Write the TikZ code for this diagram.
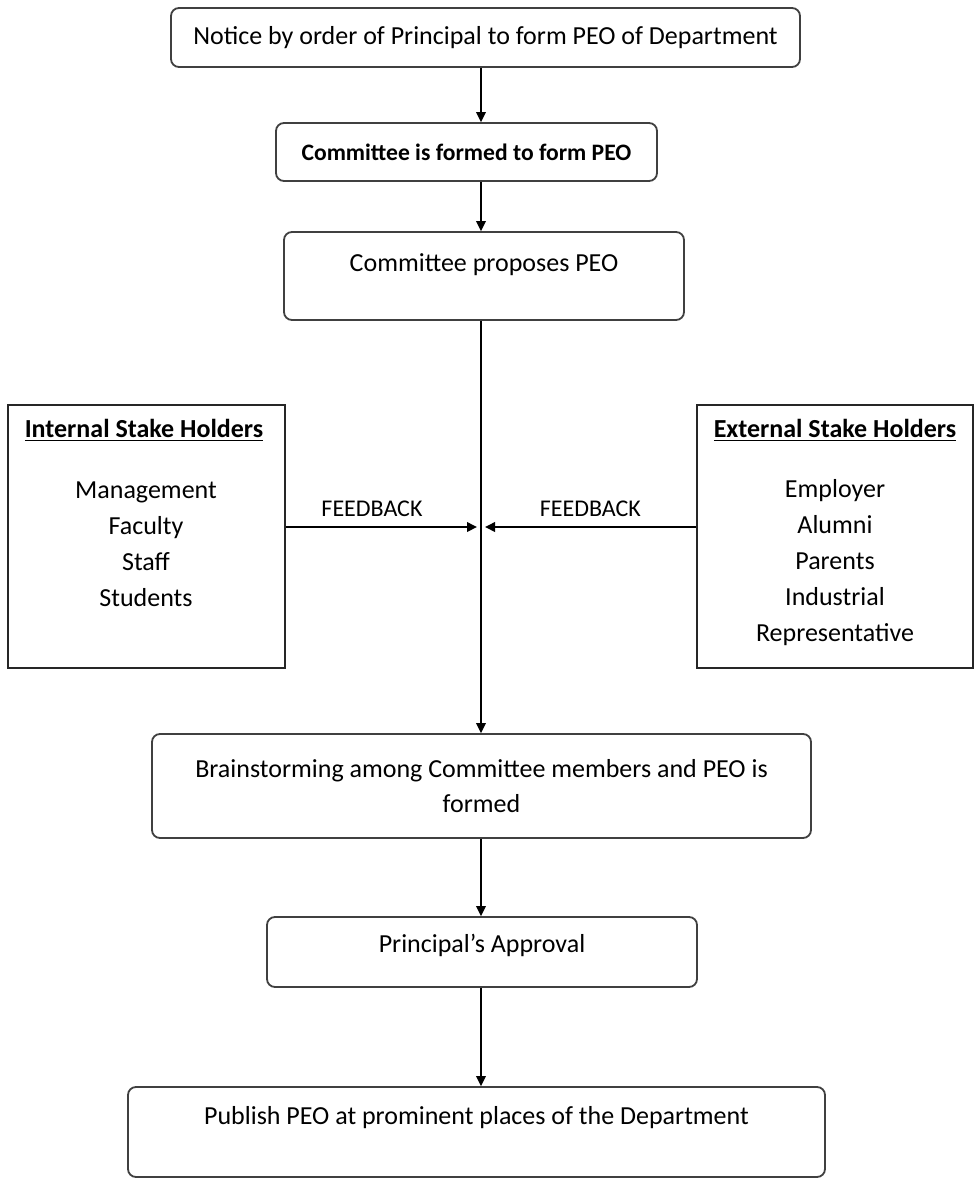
\documentclass[tikz,border=0pt]{standalone}
\usepackage{fontspec}
\setmainfont{Carlito}
\usetikzlibrary{arrows.meta}

\tikzset{
  box/.style={draw=black!75, line width=0.9pt, rounded corners=4pt, align=center, inner sep=0pt,
    font=\fontsize{13}{17.5}\selectfont},
  holder/.style={draw=black!85, line width=1.1pt, inner sep=0pt},
  flow/.style={-{Triangle[length=5pt,width=4.8pt]}, line width=0.8pt},
  fb/.style={font=\fontsize{12}{14}\selectfont},
}

\begin{document}
\begin{tikzpicture}[x=0.5pt, y=-0.5pt]
\useasboundingbox (0,0) rectangle (977,1178);

% main column
\node[box, minimum width=314.5pt, minimum height=29.5pt] (notice) at (485.5,37.5) {Notice by order of Principal to form PEO of Department};
\node[box, minimum width=190.5pt, minimum height=29pt, font=\fontsize{11.8}{14}\selectfont\bfseries] (committee) at (466.5,152) {Committee is formed to form PEO};
\node[box, minimum width=200pt, minimum height=44pt, text height=8pt, text depth=12.5pt] (proposes) at (484,276) {Committee proposes PEO};
\node[box, minimum width=329.5pt, minimum height=52pt] (brainstorm) at (481.5,786) {Brainstorming among Committee members and PEO is\\formed};
\node[box, minimum width=215pt, minimum height=35pt, text height=8pt, text depth=7.5pt] (approval) at (482,952) {Principal’s Approval};
\node[box, minimum width=348.5pt, minimum height=45pt, text height=8pt, text depth=15.5pt] (publish) at (476.5,1132) {Publish PEO at prominent places of the Department};

% stake holders
\node[holder, minimum width=138.5pt, minimum height=131.5pt] (internal) at (146.5,536.5) {};
\node[holder, minimum width=138pt, minimum height=131.5pt] (external) at (835,536.5) {};
\node[font=\fontsize{13}{15}\selectfont\bfseries] (inttitle) at (144,430) {\underline{Internal Stake Holders}};
\node[font=\fontsize{13}{15}\selectfont\bfseries] (exttitle) at (835,430) {\underline{External Stake Holders}};
\node[align=center, font=\fontsize{13}{18}\selectfont] (intlist) at (146,544) {Management\\Faculty\\Staff\\Students};
\node[align=center, font=\fontsize{13}{18}\selectfont] (extlist) at (835,563) {Employer\\Alumni\\Parents\\Industrial\\Representative};

\coordinate (spine) at (481,0);
\coordinate (meet) at (481,527);

% connectors
\draw[flow] (notice.south -| spine) -- (committee.north -| spine);
\draw[flow] (committee.south -| spine) -- (proposes.north -| spine);
\draw[flow] (proposes.south -| spine) -- (brainstorm.north -| spine);
\draw[flow] (brainstorm.south -| spine) -- (approval.north -| spine);
\draw[flow] (approval.south -| spine) -- (publish.north -| spine);
\draw[flow] (internal.east |- meet) -- ([xshift=-2pt]meet) node[fb, pos=0.45, above=1.5pt] (fbint) {FEEDBACK};
\draw[flow] (external.west |- meet) -- ([xshift=2pt]meet) node[fb, midway, above=1.5pt] (fbext) {FEEDBACK};
\end{tikzpicture}
\end{document}
